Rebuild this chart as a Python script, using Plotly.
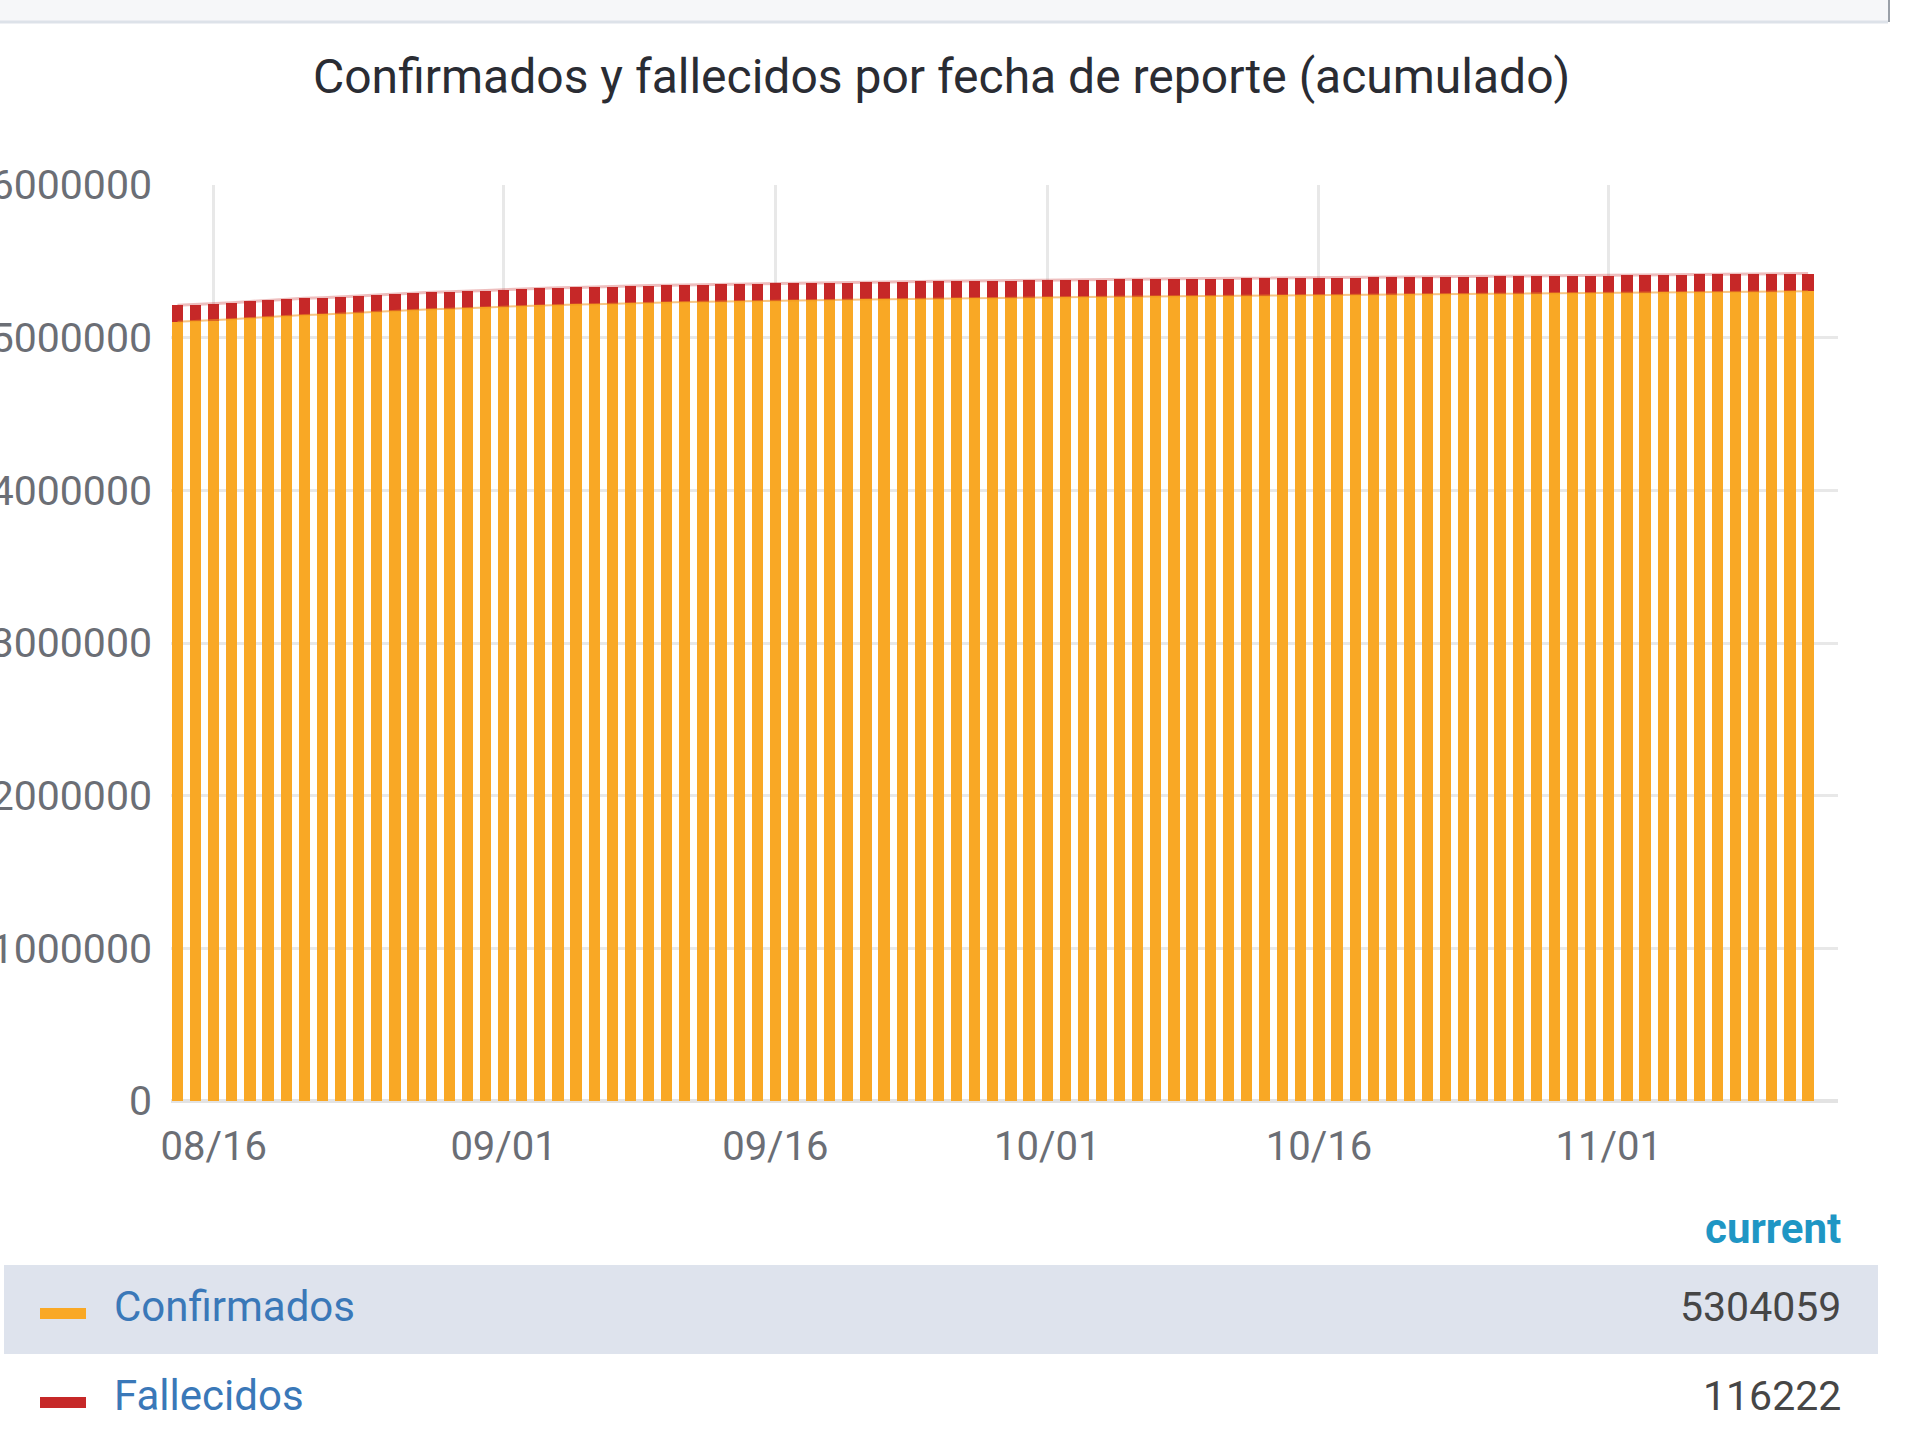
import numpy as np
import pandas as pd
import plotly.graph_objects as go

# ---------------- data ----------------
start_date = "2021-08-14"
end_date = "2021-11-12"

confirmados = [
    5104000, 5108500, 5112100, 5120500, 5128500, 5136100, 5143200, 5148800, 5152500, 5155600,
    5162800, 5169600, 5175900, 5181800, 5186500, 5189600, 5192000, 5197800, 5203200,
    5208100, 5212500, 5215800, 5217900, 5219600, 5223200, 5226500, 5229500, 5232200, 5234200,
    5235500, 5236600, 5239000, 5241200, 5243200,
    5245100, 5246500, 5247400, 5248200, 5250100, 5251900, 5253600, 5255200, 5256400, 5257200,
    5257900, 5259600, 5261200, 5262700, 5264100,
    5265200, 5265900, 5266500, 5267900, 5269200, 5270500, 5271700, 5272600, 5273100, 5273500,
    5274600, 5275800, 5277000, 5278100, 5279000,
    5279500, 5279900, 5280900, 5282000, 5283100, 5284100, 5284900, 5285400, 5285800, 5286900,
    5288100, 5289300, 5290400, 5291300, 5291800, 5292300,
    5293600, 5295000, 5296400, 5297700, 5298700, 5299300, 5299800, 5301100, 5302200, 5303200,
    5304059,
]

fallecidos = [
    108100, 108250, 108380, 108620, 108850, 109060, 109260, 109430, 109560, 109670,
    109860, 110040, 110210, 110370, 110500, 110600, 110690, 110850, 111000,
    111140, 111270, 111370, 111440, 111500, 111610, 111720, 111820, 111910, 111980,
    112030, 112070, 112160, 112250, 112330,
    112410, 112470, 112510, 112540, 112620, 112700, 112770, 112840, 112890, 112920,
    112950, 113020, 113090, 113150, 113210,
    113260, 113290, 113310, 113370, 113430, 113490, 113550, 113590, 113610, 113630,
    113690, 113760, 113820, 113880, 113920,
    113950, 113970, 114040, 114110, 114180, 114250, 114300, 114330, 114360, 114440,
    114520, 114600, 114680, 114740, 114780, 114820,
    114960, 115110, 115250, 115390, 115500, 115570, 115640, 115830, 115990, 116120,
    116222,
]

x_tick_vals = ["2021-08-16", "2021-09-01", "2021-09-16", "2021-10-01", "2021-10-16", "2021-11-01"]
x_tick_text = ["08/16", "09/01", "09/16", "10/01", "10/16", "11/01"]
y_tick_vals = [0, 1000000, 2000000, 3000000, 4000000, 5000000, 6000000]
y_tick_text = ["0", "1000000", "2000000", "3000000", "4000000", "5000000", "6000000"]

series_names = ["Confirmados", "Fallecidos"]
current_values = ["5304059", "116222"]

title_text = "Confirmados y fallecidos por fecha de reporte (acumulado)"

# ---------------- layout geometry (pixels) ----------------
W, H = 1912, 1456
PL, PR, PT, PB = 171, 1838, 185, 1101  # plot area edges
PW, PH = PR - PL, PB - PT

ORANGE = "#F9A825"
RED = "#C62828"
FONT = "Roboto, 'Noto Sans', sans-serif"


def fx(px):
    return (px - PL) / PW


def fy(py):
    return (PB - py) / PH


dates = pd.date_range(start_date, end_date, freq="D")
conf = np.array(confirmados)
fall = np.array(fallecidos)
total = conf + fall

fig = go.Figure()
fig.add_trace(go.Bar(x=dates, y=conf, name=series_names[0], marker=dict(color=ORANGE, line=dict(width=0)),
                     showlegend=False))
fig.add_trace(go.Bar(x=dates, y=fall, name=series_names[1], marker=dict(color=RED, line=dict(width=0)),
                     showlegend=False))
fig.add_trace(go.Scatter(x=dates, y=conf, mode="lines", line=dict(color="rgba(240,150,30,0.55)", width=2),
                         showlegend=False, hoverinfo="skip"))
fig.add_trace(go.Scatter(x=dates, y=total, mode="lines", line=dict(color="rgba(198,40,40,0.30)", width=3),
                         showlegend=False, hoverinfo="skip"))

shapes = []
annotations = []

# top strip
shapes.append(dict(type="rect", xref="paper", yref="paper", x0=fx(0), x1=fx(1888), y0=fy(0), y1=fy(21),
                   fillcolor="#f6f7f9", line=dict(width=0), layer="below"))
shapes.append(dict(type="line", xref="paper", yref="paper", x0=fx(0), x1=fx(1888), y0=fy(22), y1=fy(22),
                   line=dict(color="#dde2e9", width=3)))
shapes.append(dict(type="line", xref="paper", yref="paper", x0=fx(1889), x1=fx(1889), y0=fy(0), y1=fy(22),
                   line=dict(color="#9aa0a8", width=2)))

# legend row background
shapes.append(dict(type="rect", xref="paper", yref="paper", x0=fx(4), x1=fx(1878), y0=fy(1265), y1=fy(1354),
                   fillcolor="#dee3ed", line=dict(width=0), layer="below"))
# legend markers
shapes.append(dict(type="rect", xref="paper", yref="paper", x0=fx(40), x1=fx(86), y0=fy(1308), y1=fy(1319),
                   fillcolor=ORANGE, line=dict(width=0)))
shapes.append(dict(type="rect", xref="paper", yref="paper", x0=fx(40), x1=fx(86), y0=fy(1397), y1=fy(1408),
                   fillcolor=RED, line=dict(width=0)))

# title
annotations.append(dict(text=title_text, xref="paper", yref="paper", x=fx(941), y=fy(76),
                        xanchor="center", yanchor="middle", showarrow=False,
                        font=dict(family=FONT, size=48, color="#2a2c33", weight=400)))
# legend header
annotations.append(dict(text="<b>current</b>", xref="paper", yref="paper", x=fx(1843), y=fy(1228),
                        xanchor="right", yanchor="middle", showarrow=False,
                        font=dict(family=FONT, size=42, color="#1f96c4")))
# legend rows
row_y = [1306, 1395]
for name, val, yy in zip(series_names, current_values, row_y):
    annotations.append(dict(text=name, xref="paper", yref="paper", x=fx(112), y=fy(yy),
                            xanchor="left", yanchor="middle", showarrow=False,
                            font=dict(family=FONT, size=42, color="#3a78b8")))
    annotations.append(dict(text=val, xref="paper", yref="paper", x=fx(1843), y=fy(yy + 1),
                            xanchor="right", yanchor="middle", showarrow=False,
                            font=dict(family=FONT, size=41, color="#464646")))

x_start = pd.Timestamp(start_date) - pd.Timedelta(hours=8.6)
x_end = pd.Timestamp(end_date) + pd.Timedelta(hours=39.6)

fig.update_layout(
    width=W, height=H,
    margin=dict(l=PL, r=W - PR, t=PT, b=H - PB, pad=0, autoexpand=False),
    paper_bgcolor="white", plot_bgcolor="white",
    barmode="stack", bargap=0.38,
    shapes=shapes, annotations=annotations,
    showlegend=False,
    font=dict(family=FONT),
    xaxis=dict(
        type="date", range=[x_start, x_end], automargin=False,
        tickmode="array", tickvals=x_tick_vals, ticktext=x_tick_text,
        showgrid=True, gridcolor="#e8e8e8", gridwidth=3,
        ticks="", showline=False, zeroline=False,
        tickfont=dict(family=FONT, size=40, color="#6b6e75"),
        ticklabelstandoff=18, fixedrange=True,
    ),
    yaxis=dict(
        range=[0, 6000000], automargin=False,
        tickmode="array", tickvals=y_tick_vals, ticktext=y_tick_text,
        showgrid=True, gridcolor="#e8e8e8", gridwidth=3,
        zeroline=True, zerolinecolor="#e3e3e3", zerolinewidth=4,
        ticks="", showline=False,
        tickfont=dict(family=FONT, size=41, color="#6b6e75"),
        ticklabelstandoff=18, fixedrange=True,
    ),
)

fig.write_html("out.html", config={"displayModeBar": False},
               post_script="document.body.style.margin='0px';document.body.style.overflow='hidden';")
